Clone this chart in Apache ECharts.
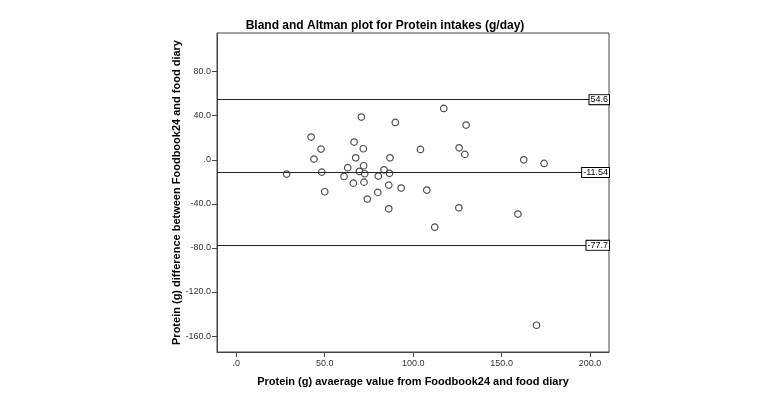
<!DOCTYPE html>
<html>
<head>
<meta charset="utf-8">
<script src="https://cdn.jsdelivr.net/npm/echarts@6/dist/echarts.min.js"></script>
<style>html,body{margin:0;padding:0;background:#fff;}#c{width:765px;height:400px;}</style>
</head>
<body>
<div id="c"></div>
<script>
var titleText = 'Bland and Altman plot for Protein intakes (g/day)';
var xName = 'Protein (g) avaerage value from Foodbook24 and food diary';
var yName = 'Protein (g) difference between Foodbook24 and food diary';
var xTicks = [0, 50, 100, 150, 200];
var yTicks = [-160, -120, -80, -40, 0, 40, 80];
var avgValues = [28.5, 42.3, 43.9, 47.9, 48.3, 50.0, 60.9, 63.0, 66.2, 66.6, 67.5, 69.6, 70.7, 71.8, 72.0, 72.6, 72.2, 74.1, 80.0, 80.3, 83.5, 86.2, 86.2, 86.6, 86.9, 89.9, 93.2, 104.1, 107.7, 112.2, 117.3, 125.8, 126.0, 129.2, 129.9, 159.2, 162.5, 169.7, 174.0];
var diffValues = [-13.0, 20.6, 0.6, 9.7, -11.2, -29.0, -15.1, -7.2, -21.2, 16.1, 1.8, -10.6, 38.8, 10.0, -5.4, -12.7, -20.3, -35.7, -29.6, -14.8, -9.1, -23.0, -44.5, -12.3, 1.8, 33.9, -25.7, 9.4, -27.5, -61.2, 46.6, -43.6, 10.9, 4.9, 31.5, -49.3, 0.0, -150.2, -3.3];
var refValues = [54.6, -11.54, -77.7];
var refLabels = ['54.6', '-11.54', '-77.7'];

var pts = avgValues.map(function (x, i) { return [x, diffValues[i]]; });
function fmt(v) { return v === 0 ? '.0' : v.toFixed(1); }
var font = 'Arial, "Liberation Sans", sans-serif';

var chart = echarts.init(document.getElementById('c'));
chart.setOption({
  animation: false,
  backgroundColor: '#fff',
  title: {
    text: titleText, left: 380, top: 15, textAlign: 'center',
    textStyle: { fontFamily: font, fontSize: 12, fontWeight: 'bold', color: '#000' }
  },
  grid: { left: 217, top: 33, width: 392, height: 319, show: true, borderColor: '#444', borderWidth: 1, backgroundColor: 'transparent' },
  xAxis: {
    type: 'value', min: -10.9, max: 210.7,
    name: xName, nameLocation: 'middle', nameGap: 24, nameMoveOverlap: false,
    nameTextStyle: { fontFamily: font, fontSize: 11, fontWeight: 'bold', color: '#000' },
    axisLine: { show: true, onZero: false, lineStyle: { color: '#444' } },
    axisTick: { show: true, length: 5, customValues: xTicks, lineStyle: { color: '#444' } },
    axisLabel: { customValues: xTicks, formatter: fmt, fontFamily: font, fontSize: 9, color: '#333', margin: 7 },
    splitLine: { show: false }
  },
  yAxis: {
    type: 'value', min: -174.5, max: 115.1,
    name: yName, nameLocation: 'middle', nameGap: 35, nameRotate: 90, nameMoveOverlap: false,
    nameTextStyle: { fontFamily: font, fontSize: 11, fontWeight: 'bold', color: '#000' },
    axisLine: { show: true, onZero: false, lineStyle: { color: '#444' } },
    axisTick: { show: true, length: 5, customValues: yTicks, lineStyle: { color: '#444' } },
    axisLabel: { customValues: yTicks, formatter: fmt, fontFamily: font, fontSize: 9, color: '#333', margin: 6 },
    splitLine: { show: false }
  },
  series: [{
    type: 'scatter',
    data: pts,
    symbol: 'circle',
    symbolSize: 6.5,
    itemStyle: { color: '#fff', borderColor: '#222', borderWidth: 1.2 },
    markLine: {
      silent: true, symbol: 'none',
      lineStyle: { color: '#222', width: 1, type: 'solid' },
      label: {
        show: true, position: 'insideEnd', distance: 0,
        fontFamily: font, fontSize: 9, color: '#000',
        backgroundColor: '#fff', borderColor: '#000', borderWidth: 1, padding: [0, 1]
      },
      data: refValues.map(function (v, i) {
        return { yAxis: v, label: { formatter: refLabels[i] } };
      })
    }
  }]
});
</script>
</body>
</html>
